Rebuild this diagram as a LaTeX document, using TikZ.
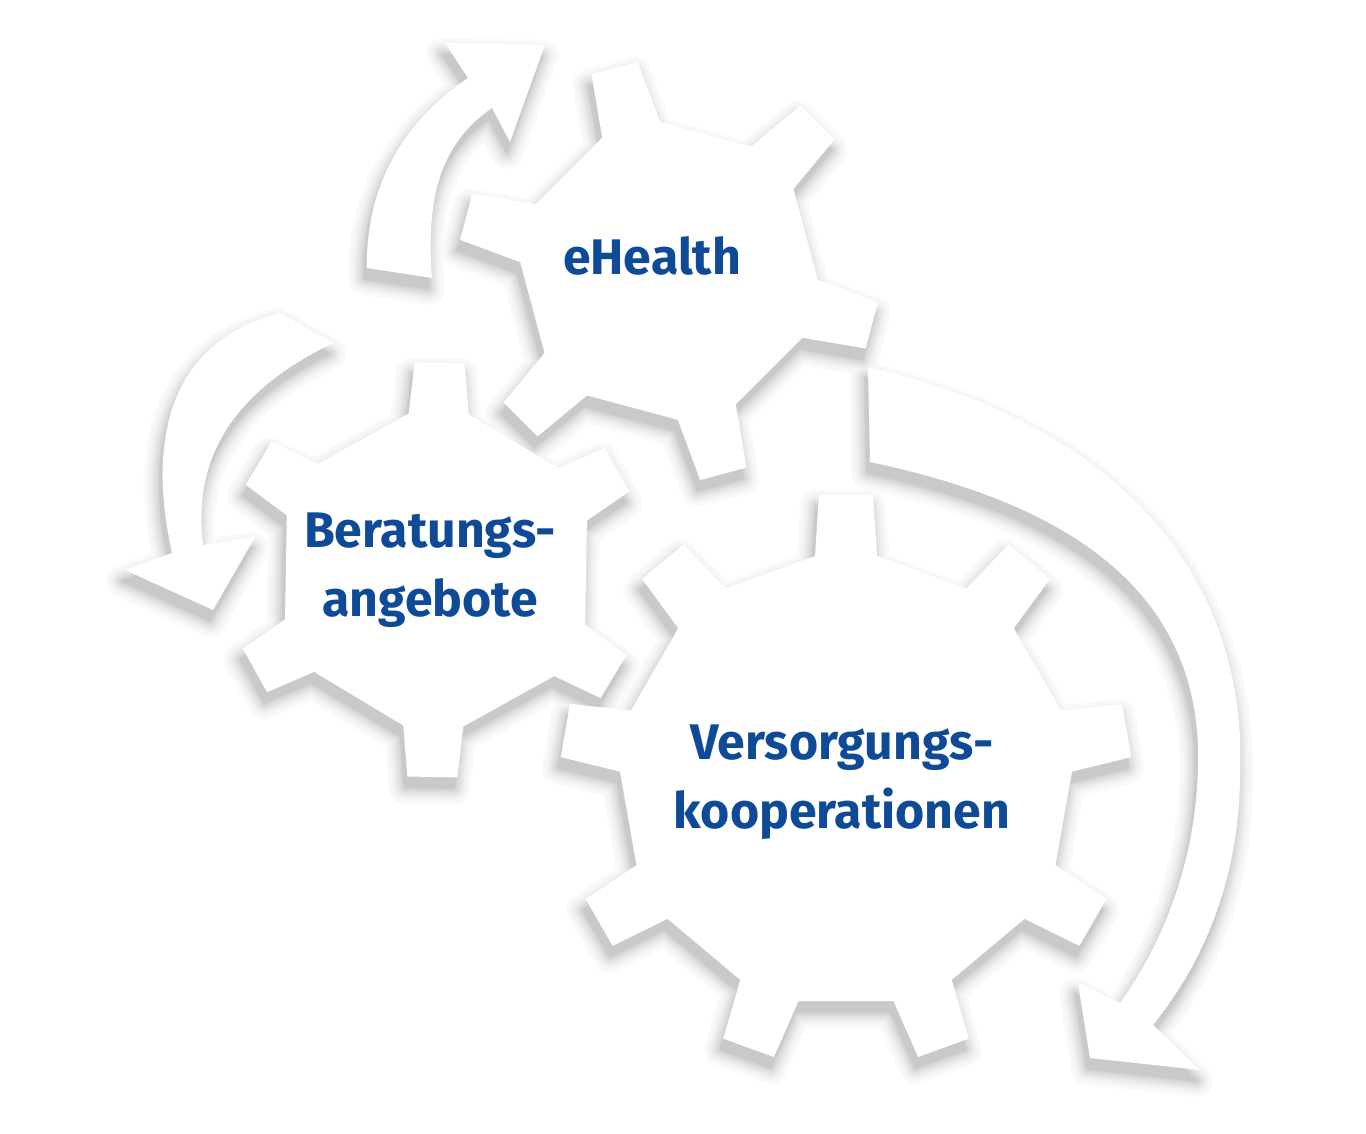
\documentclass[tikz,border=0pt]{standalone}
\usepackage{fontspec}
\newfontfamily\labfont{Fira Sans}
\definecolor{lblue}{HTML}{0E4A96}
% point of a gear in the local frame of a tooth: centre (#1,#2), angle #3, radial #4, lateral #5
\newcommand\gpt[5]{({#1+(#4)*cos(#3)-(#5)*sin(#3)},{#2+(#4)*sin(#3)+(#5)*cos(#3)})}
% gear outline: cx, cy, N, first angle, tip radius, tip half width, base radius, base half width
\newcommand\gearshape[8]{\gpt{#1}{#2}{#4}{#7}{-#8}
  \foreach \k in {1,...,#3}{
    -- \gpt{#1}{#2}{#4+(\k-1)*360/#3}{#5}{-#6}
    -- \gpt{#1}{#2}{#4+(\k-1)*360/#3}{#5}{#6}
    -- \gpt{#1}{#2}{#4+(\k-1)*360/#3}{#7}{#8}
    -- \gpt{#1}{#2}{#4+\k*360/#3}{#7}{-#8}
  } -- cycle}
\def\gE{\gearshape{669}{271}{6}{-105}{210}{24}{146}{30}}
\def\gB{\gearshape{436}{570}{6}{-89}{207}{25}{156}{30}}
\def\gV{\gearshape{846}{780}{9}{-90}{285}{27}{224}{31}}
\def\aT{(367,268) .. controls (365,170) and (420,110) .. (468,78) -- (445,43) -- (545,45) -- (510,142) -- (492,108) .. controls (445,140) and (425,190) .. (432,278) -- cycle}
\def\aL{(280,313) .. controls (175,340) and (145,430) .. (172,553) -- (125,570) -- (213,610) -- (255,537) -- (203,545) .. controls (195,475) and (215,400) .. (333,343) -- cycle}
\def\aR{(868,367) .. controls (1100,420) and (1250,560) .. (1240,780) .. controls (1238,880) and (1205,960) .. (1153,1025) -- (1200,1070) -- (1090,1058) -- (1078,983) -- (1120,1003) .. controls (1165,940) and (1195,860) .. (1198,770) .. controls (1205,580) and (1050,500) .. (870,462) -- cycle}
\tikzset{
  shad/.style={draw=black!#1, fill=black!#1, line join=round},
  shape fill/.style={fill=white},
  lbl/.style={font=\labfont\bfseries\fontsize{25}{34.5}\selectfont, text=lblue, inner sep=0pt}
}
\begin{document}
\begin{tikzpicture}[x=0.5pt, y=-0.5pt]
\useasboundingbox (0,0) rectangle (1366,1134);
\fill[white] (0,0) rectangle (1366,1134);
% soft shadows, drawn level by level (widest and lightest first)
\foreach \w/\p in {16/2,13.5/3.5,11/5,9/7,7.5/9,6/11,4.5/13,3.2/15,2/17,1/19,0.3/21}{
  \begin{scope}[shift={(-3,11)}]
    \filldraw[shad=\p, line width=\w pt] \aT;
    \filldraw[shad=\p, line width=\w pt] \aL;
    \filldraw[shad=\p, line width=\w pt] \aR;
    \filldraw[shad=\p, line width=\w pt] \gE;
    \filldraw[shad=\p, line width=\w pt] \gB;
    \filldraw[shad=\p, line width=\w pt] \gV;
  \end{scope}
}
% white shapes
\fill[shape fill] \aT;
\fill[shape fill] \aL;
\fill[shape fill] \aR;
\fill[shape fill] \gE;
\fill[shape fill] \gB;
\fill[shape fill] \gV;
% labels
\node[lbl, anchor=base] (ehealth) at (652,275) {eHealth};
\node[lbl, align=center] (beratung) at (430,570) {Beratungs-\\angebote};
\node[lbl, align=center] (versorgung) at (842,782) {Versorgungs-\\kooperationen};
\end{tikzpicture}
\end{document}
